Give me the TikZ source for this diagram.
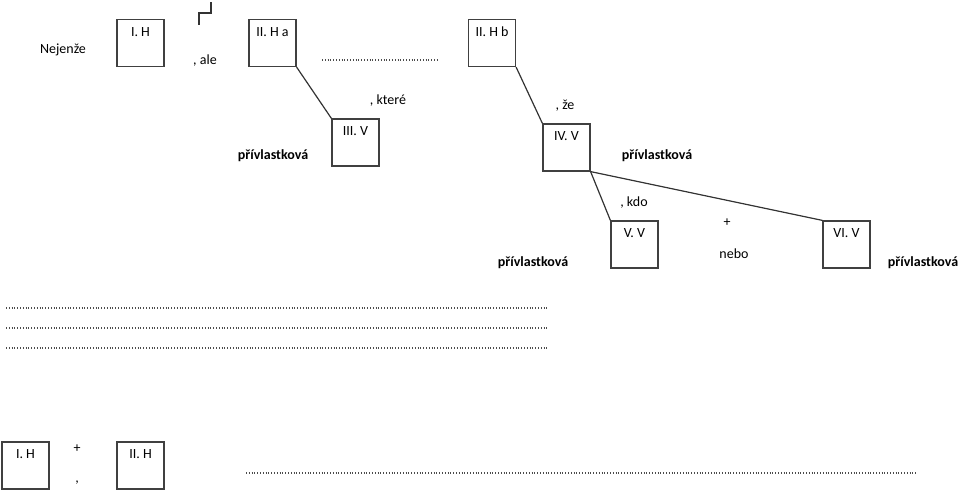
\documentclass[tikz,border=0pt]{standalone}
\usepackage{fontspec}
\setmainfont{Carlito}
\usetikzlibrary{positioning}

\newcommand{\velikost}{\fontsize{14}{17}\selectfont}

\tikzset{
  vetabox/.style={draw=black!75, line width=1.2pt, minimum size=47pt, inner sep=0pt,
    label={[anchor=north, inner sep=0pt, yshift=-8pt]north:#1}},
  spoj/.style={draw=black!80, line width=1.2pt},
  tecky/.style={draw=black!70, line width=1.1pt, dash pattern=on 1pt off 1.8pt},
  txt/.style={inner sep=0pt},
  druh/.style={inner sep=0pt, font=\velikost\bfseries}
}

\begin{document}
\begin{tikzpicture}[x=1pt, y=-1pt, font=\velikost]
  \useasboundingbox (0,0) rectangle (960,491);
  % hlavni vety
  \node[vetabox={I. H}] (h1) at (140.5,43) {};
  \node[vetabox={II. H a}] (h2a) at (272.5,43) {};
  \node[vetabox={II. H b}] (h2b) at (492,43) {};
  \node[txt] (nejenze) at (63,50) {Nejenže};
  \node[txt] (ale) at (205,61) {, ale};
  \draw[spoj] (211,2) -- (211,13) -- (199,13) -- (199,25);
  \coordinate (ta) at (322,60);
  \coordinate (tb) at (437,60);
  \draw[tecky] (ta) -- (tb);
  % vedlejsi vety
  \node[vetabox={III. V}] (v3) at (355.5,142.5) {};
  \node[vetabox={IV. V}] (v4) at (566.5,147.5) {};
  \node[vetabox={V. V}] (v5) at (634.5,244.5) {};
  \node[vetabox={VI. V}] (v6) at (846.5,244.5) {};
  \draw[spoj] (h2a.south east) -- (v3.north west);
  \draw[spoj] (h2b.south east) -- (v4.north west);
  \draw[spoj] (v4.south east) -- (v5.north west);
  \draw[spoj] (v4.south east) -- (v6.north west);
  % spojovaci vyrazy
  \node[txt] (ktere) at (388,101) {, které};
  \node[txt] (ze) at (565,106) {, že};
  \node[txt] (kdo) at (634,203) {, kdo};
  \node[txt] (plus) at (727,223) {+};
  \node[txt] (nebo) at (734,254) {nebo};
  % druhy vet
  \node[druh] (d3) at (273,156) {přívlastková};
  \node[druh] (d4) at (657,156) {přívlastková};
  \node[druh] (d5) at (533,263) {přívlastková};
  \node[druh] (d6) at (923,263) {přívlastková};
  % radky na odpoved
  \foreach \r in {308,328,348}
    \draw[tecky] (6,\r) -- (549,\r);
  % dole
  \node[vetabox={I. H}] (b1) at (25.5,465.5) {};
  \node[vetabox={II. H}] (b2) at (140.5,465.5) {};
  \node[txt] (bplus) at (77,449) {+};
  \node[txt] (bcarka) at (77,483) {,};
  \coordinate (tc) at (246,473);
  \coordinate (td) at (917,473);
  \draw[tecky] (tc) -- (td);
\end{tikzpicture}
\end{document}
